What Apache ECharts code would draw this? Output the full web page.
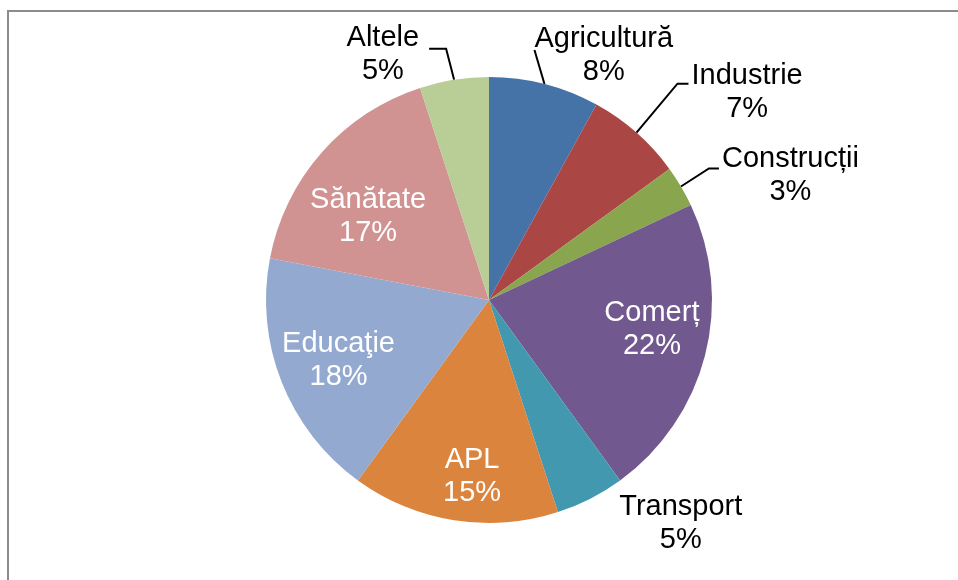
<!DOCTYPE html>
<html>
<head>
<meta charset="utf-8">
<script src="https://cdn.jsdelivr.net/npm/echarts@6/dist/echarts.min.js"></script>
<style>
  html, body { margin: 0; background: #fff; }
  #chart { width: 958px; height: 580px; }
</style>
</head>
<body>
<div id="chart"></div>
<script>
const categories = ['Agricultură', 'Industrie', 'Construcții', 'Comerț', 'Transport', 'APL', 'Educaţie', 'Sănătate', 'Altele']
const shares = [8, 7, 3, 22, 5, 15, 18, 17, 5]
const sliceColors = ['#4572a7', '#aa4643', '#89a54e', '#71588f', '#4198af', '#db843d', '#93a9cf', '#d19392', '#b9cd96']
const insideNames = ['Comerț', 'APL', 'Educaţie', 'Sănătate']

const LINE_H = 33

// nudges for the labels inside the slices (px)
const insideShift = {
  'Comerț': [52, 1],
  'APL': [1, 63],
  'Educaţie': [-44, 18],
  'Sănătate': [-35, -8]
}

// leader lines, relative to the point on the rim the pie gives us
const leader = {
  'Agricultură': { elbow: [-10, -34], end: [-10, -34], side: 1, gap: 0, dy: -11 },
  'Industrie': { elbow: [41, -49], end: [52, -49], side: 1, gap: 3, dy: -8 },
  'Construcții': { elbow: [28, -18], end: [38, -18], side: 1, gap: 3, dy: -9 },
  'Transport': { elbow: [29, 0], end: [29, 0], side: 1, gap: 0, dy: 8 },
  'Altele': { elbow: [-8, -31], end: [-25, -31], side: -1, gap: 10, dy: -11 }
}

const chart = echarts.init(document.getElementById('chart'))

const pieData = categories.map((name, i) => {
  const inside = insideNames.includes(name)
  return {
    name,
    value: shares[i],
    itemStyle: { color: sliceColors[i] },
    label: {
      position: inside ? 'inside' : 'outside',
      color: inside ? '#fff' : '#000'
    },
    labelLine: {
      show: !inside,
      lineStyle: name === 'Transport' ? { opacity: 0 } : {}
    }
  }
})

chart.setOption({
  animation: false,
  graphic: [{
    type: 'rect',
    silent: true,
    z: -1,
    shape: { x: 8, y: 11, width: 1000, height: 1000 },
    style: { fill: 'none', stroke: '#8c8c8c', lineWidth: 2 }
  }],
  series: [{
    type: 'pie',
    center: [489, 300],
    radius: 223,
    startAngle: 90,
    clockwise: true,
    percentPrecision: 0,
    avoidLabelOverlap: false,
    data: pieData,
    itemStyle: { borderWidth: 0 },
    label: {
      formatter: '{b}\n{d}%',
      fontFamily: '"Liberation Sans", Arial, sans-serif',
      fontSize: 29,
      lineHeight: LINE_H
    },
    labelLine: {
      length: 20,
      length2: 10,
      lineStyle: { color: '#000', width: 2 }
    },
    labelLayout(params) {
      const name = categories[params.dataIndex]
      const rect = params.labelRect
      if (insideShift[name]) {
        const s = insideShift[name]
        return {
          x: rect.x + rect.width / 2 + s[0],
          y: rect.y + rect.height / 2 + s[1],
          align: 'center',
          verticalAlign: 'middle'
        }
      }
      const cfg = leader[name]
      const pts = params.labelLinePoints
      if (!cfg || !pts) return {}
      const rim = pts[0]
      const elbow = [rim[0] + cfg.elbow[0], rim[1] + cfg.elbow[1]]
      const end = [rim[0] + cfg.end[0], rim[1] + cfg.end[1]]
      return {
        x: end[0] + cfg.side * (cfg.gap + rect.width / 2),
        y: end[1] + cfg.dy + LINE_H / 2,
        align: 'center',
        verticalAlign: 'middle',
        labelLinePoints: [rim, elbow, end]
      }
    }
  }]
})
</script>
</body>
</html>
